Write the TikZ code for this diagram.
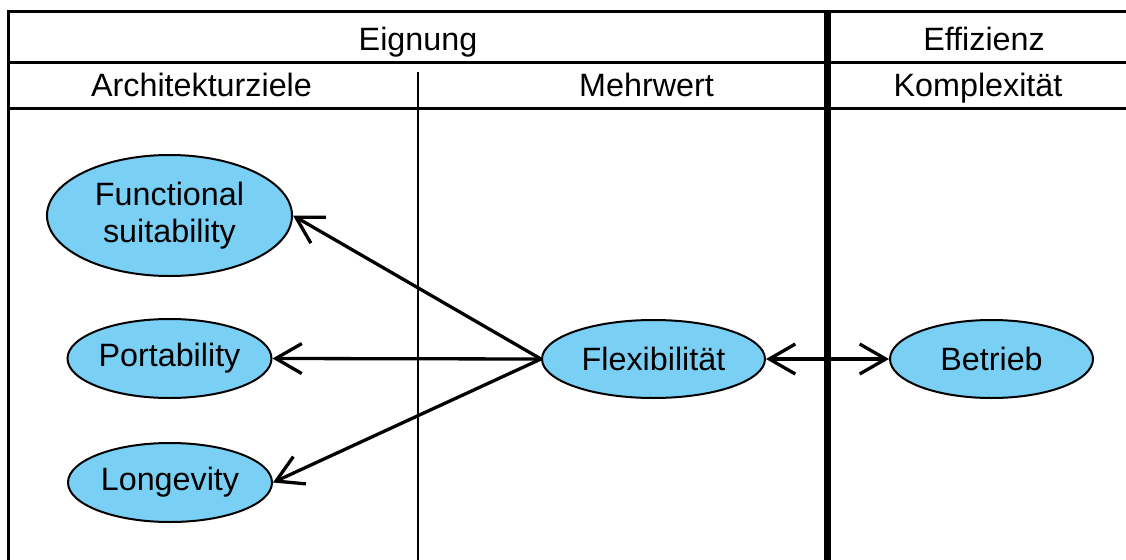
\documentclass[tikz,border=0pt]{standalone}
\usepackage{fontspec}
\setmainfont{Liberation Sans}
\usetikzlibrary{shapes.geometric,arrows.meta}
\definecolor{bubble}{RGB}{122,208,244}
\tikzset{
  grid/.style={line width=3pt},
  divider/.style={line width=6.5pt},
  thinrule/.style={line width=2pt},
  head/.style={anchor=base, inner sep=0pt, font=\fontsize{32.3}{37}\selectfont},
  bubblenode/.style={ellipse, draw, line width=2pt, fill=bubble, inner sep=0pt,
    align=center, font=\fontsize{32.3}{37}\selectfont},
  link/.style={line width=3.3pt, -{Straight Barb[length=26pt,width=30pt,line width=3.3pt]}},
  biglink/.style={line width=3.3pt, {Straight Barb[length=26pt,width=30pt,line width=3.3pt]}-{Straight Barb[length=26pt,width=30pt,line width=3.3pt]}}
}
\begin{document}
\begin{tikzpicture}[x=1pt,y=-1pt]
\useasboundingbox (0,0) rectangle (1126,559);
% table frame and rules
\draw[grid] (8.3,575) -- (8.3,11.3) -- (1140,11.3);
\draw[grid] (8.3,62.7) -- (1140,62.7);
\draw[grid] (8.3,108.7) -- (1140,108.7);
\draw[thinrule] (418,72) -- (418,575);
\draw[divider] (827.5,11.3) -- (827.5,575);
% header texts
\node[head] (eignung) at (418,51) {Eignung};
\node[head] (effizienz) at (984,51) {Effizienz};
\node[head] (arch) at (201.5,97) {Architekturziele};
\node[head] (mehrwert) at (646.5,97) {Mehrwert};
\node[head] (komplex) at (978,97) {Komplexität};
% goal bubbles
\node[bubblenode, minimum width=245pt, minimum height=121pt] (fs) at (169.5,215.5) {Functional\\suitability};
\node[bubblenode, minimum width=204pt, minimum height=79pt] (port) at (169.5,358.5) {Portability};
\node[bubblenode, minimum width=204pt, minimum height=79pt] (long) at (170,482.5) {Longevity};
\node[bubblenode, minimum width=223pt, minimum height=78pt] (flex) at (653.5,359) {Flexibilität};
\node[bubblenode, minimum width=203pt, minimum height=78pt] (betrieb) at (991.5,359) {Betrieb};
% connectors
\draw[link] (flex.west) -- (fs.east);
\draw[link] (flex.west) -- (port.east);
\draw[link] (flex.west) -- (long.east);
\draw[biglink] (flex.east) -- (betrieb.west);
\end{tikzpicture}
\end{document}
